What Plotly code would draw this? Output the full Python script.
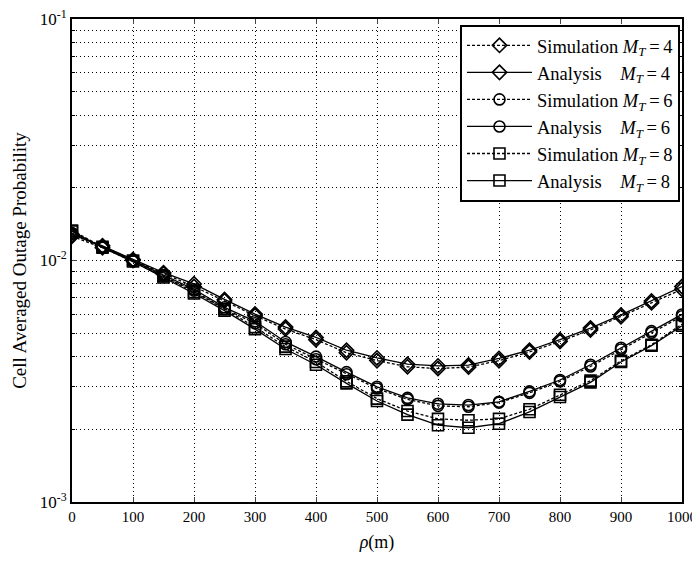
import plotly.graph_objects as go

rho = [0, 50, 100, 150, 200, 250, 300, 350, 400, 450, 500, 550, 600, 650, 700, 750, 800, 850, 900, 950, 1000]

ana_mt4 = [0.0128, 0.0115, 0.0101, 0.0089, 0.0080, 0.0069, 0.0060, 0.0053, 0.0048, 0.00425, 0.00395, 0.00372, 0.00366, 0.00369, 0.00393, 0.00425, 0.00470, 0.00525, 0.00595, 0.00680, 0.00780]
sim_mt4 = [0.0126, 0.0113, 0.0100, 0.0088, 0.0078, 0.0068, 0.0059, 0.0052, 0.0047, 0.00415, 0.00385, 0.00363, 0.00357, 0.00362, 0.00385, 0.00418, 0.00462, 0.00516, 0.00585, 0.00668, 0.00760]
ana_mt6 = [0.0130, 0.0114, 0.0100, 0.0087, 0.0076, 0.0064, 0.0056, 0.0046, 0.0040, 0.00345, 0.00300, 0.00270, 0.00255, 0.00252, 0.00260, 0.00287, 0.00320, 0.00370, 0.00435, 0.00510, 0.00598]
sim_mt6 = [0.0129, 0.0113, 0.0099, 0.0086, 0.0075, 0.0063, 0.0055, 0.0045, 0.0039, 0.00338, 0.00295, 0.00266, 0.00250, 0.00248, 0.00258, 0.00283, 0.00316, 0.00364, 0.00428, 0.00502, 0.00588]
ana_mt8 = [0.0132, 0.0113, 0.0099, 0.0085, 0.0073, 0.0062, 0.0052, 0.0043, 0.0037, 0.00310, 0.00262, 0.00230, 0.00208, 0.00203, 0.00211, 0.00236, 0.00272, 0.00313, 0.00380, 0.00444, 0.00537]
sim_mt8 = [0.0133, 0.0114, 0.0100, 0.0086, 0.0074, 0.0063, 0.0053, 0.0044, 0.0038, 0.00316, 0.00268, 0.00238, 0.00221, 0.00218, 0.00221, 0.00242, 0.00278, 0.00318, 0.00384, 0.00448, 0.00545]

series = [
    ("Simulation <i>M<sub>T</sub></i>\u2009=\u20094", sim_mt4, "diamond-open", True),
    ("Analysis\u00a0\u00a0\u00a0\u00a0<i>M<sub>T</sub></i>\u2009=\u20094", ana_mt4, "diamond-open", False),
    ("Simulation <i>M<sub>T</sub></i>\u2009=\u20096", sim_mt6, "circle-open", True),
    ("Analysis\u00a0\u00a0\u00a0\u00a0<i>M<sub>T</sub></i>\u2009=\u20096", ana_mt6, "circle-open", False),
    ("Simulation <i>M<sub>T</sub></i>\u2009=\u20098", sim_mt8, "square-open", True),
    ("Analysis\u00a0\u00a0\u00a0\u00a0<i>M<sub>T</sub></i>\u2009=\u20098", ana_mt8, "square-open", False),
]

x_ticks = [0, 100, 200, 300, 400, 500, 600, 700, 800, 900, 1000]
y_major = [0.001, 0.01, 0.1]
y_major_text = ["10<sup>-3</sup>", "10<sup>-2</sup>", "10<sup>-1</sup>"]
y_minor = [0.002, 0.003, 0.004, 0.005, 0.006, 0.007, 0.008, 0.009,
           0.02, 0.03, 0.04, 0.05, 0.06, 0.07, 0.08, 0.09]

fig = go.Figure()
for name, vals, sym, dashed in series:
    fig.add_trace(go.Scatter(
        x=rho, y=vals, name=name, mode="lines+markers",
        line=dict(color="black", width=1.3, dash="3px,2px" if dashed else "solid"),
        marker=dict(symbol=sym, size=11, color="black", line=dict(width=1.6, color="black")),
    ))

font_family = "Liberation Serif"
fig.update_layout(
    width=692, height=545,
    margin=dict(l=64, r=18, t=11, b=51),
    paper_bgcolor="white", plot_bgcolor="white",
    font=dict(family=font_family, size=15, color="black"),
    showlegend=True,
    legend=dict(
        x=0.9967, y=0.988, xanchor="right", yanchor="top",
        bgcolor="white", bordercolor="black", borderwidth=2,
        font=dict(family=font_family, size=18.5, color="black"),
        tracegroupgap=0, itemwidth=65,
    ),
    xaxis=dict(
        range=[0, 1000], tickvals=x_ticks, ticks="inside", ticklen=5,
        showline=True, linecolor="black", linewidth=2, mirror="ticks",
        showgrid=True, gridcolor="black", griddash="1px,3px", gridwidth=1,
        zeroline=False, automargin=False, ticklabeloverflow="allow",
        title=dict(text="<i>ρ</i>(m)", font=dict(family=font_family, size=18), standoff=12),
        tickfont=dict(family=font_family, size=15),
    ),
    yaxis=dict(
        type="log", range=[-3, -1], tickvals=y_major, ticktext=y_major_text,
        ticks="inside", ticklen=5,
        showline=True, linecolor="black", linewidth=2, mirror="ticks",
        showgrid=True, gridcolor="black", griddash="1px,3px", gridwidth=1,
        minor=dict(tickvals=y_minor, ticks="inside", ticklen=3, tickcolor="black",
                   showgrid=True, gridcolor="black", griddash="1px,3px", gridwidth=1),
        zeroline=False, automargin=False, ticklabeloverflow="allow",
        title=dict(text="Cell Averaged Outage Probability", font=dict(family=font_family, size=19), standoff=8),
        tickfont=dict(family=font_family, size=17),
    ),
)

fig.write_html("out.html")
